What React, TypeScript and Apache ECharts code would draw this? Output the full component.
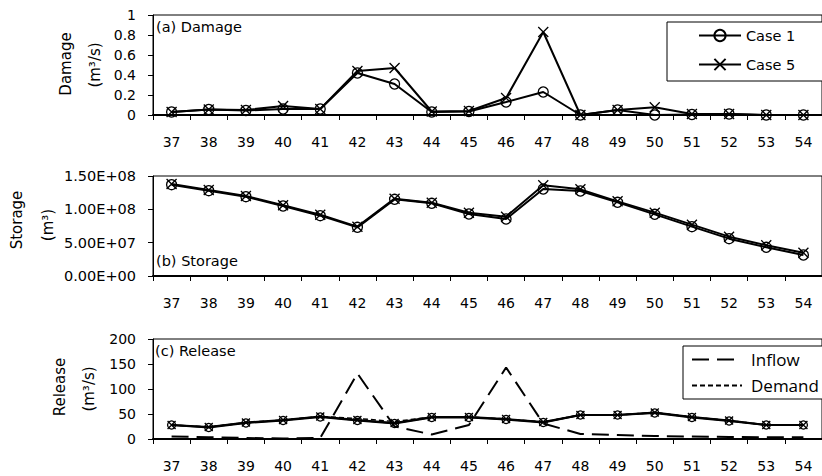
import React, { useEffect, useRef } from "react";
import * as echarts from "echarts";

const weeks = ["37", "38", "39", "40", "41", "42", "43", "44", "45", "46", "47", "48", "49", "50", "51", "52", "53", "54"];

const damageCase1 = [0.03, 0.055, 0.045, 0.06, 0.06, 0.42, 0.31, 0.03, 0.035, 0.13, 0.23, 0.0, 0.05, 0.0, 0.005, 0.01, 0.0, 0.0];
const damageCase5 = [0.03, 0.055, 0.05, 0.09, 0.06, 0.44, 0.47, 0.035, 0.04, 0.17, 0.83, 0.0, 0.05, 0.077, 0.01, 0.01, 0.0, 0.0];

const storageCase1 = [1.37e8, 1.28e8, 1.19e8, 1.05e8, 0.905e8, 0.73e8, 1.15e8, 1.09e8, 0.93e8, 0.855e8, 1.305e8, 1.275e8, 1.105e8, 0.925e8, 0.74e8, 0.56e8, 0.43e8, 0.315e8];
const storageCase5 = [1.38e8, 1.29e8, 1.2e8, 1.06e8, 0.92e8, 0.74e8, 1.16e8, 1.1e8, 0.95e8, 0.89e8, 1.36e8, 1.3e8, 1.12e8, 0.95e8, 0.77e8, 0.59e8, 0.46e8, 0.35e8];

const releaseCase1 = [28, 23, 32, 37, 44, 37, 31, 43, 43, 39, 33, 48, 48, 52, 43, 36, 28, 28];
const releaseCase5 = [28, 24, 33, 38, 45, 38, 32, 44, 44, 40, 34, 48, 48, 53, 44, 37, 28, 28];
const inflow = [5, 3.5, 2, 1, 2, 131, 25, 9, 28, 143, 31, 10, 8, 6, 5, 4, 3.5, 3.5];
const demand = [28, 24, 33, 38, 45, 41, 35, 44, 44, 40, 34, 48, 48, 53, 44, 37, 28, 28];

const damageTicks = { min: 0, max: 1, interval: 0.2 };
const storageTicks = { min: 0, max: 1.5e8, interval: 5e7 };
const releaseTicks = { min: 0, max: 200, interval: 50 };

const FONT = "DejaVu Sans";
const CROSS = "path://M0,0L10,10M0,10L10,0";

function sciFormat(v: number): string {
  if (v === 0) return "0.00E+00";
  const e = Math.floor(Math.log10(v) + 1e-9);
  const m = v / Math.pow(10, e);
  return m.toFixed(2) + "E+" + String(e).padStart(2, "0");
}

function plainFormat(v: number): string {
  return String(Math.round(v * 1000) / 1000);
}

export default function App() {
  const ref = useRef<HTMLDivElement>(null);

  useEffect(() => {
    if (!ref.current) return;
    const chart = echarts.init(ref.current, undefined, { renderer: "svg" });

    const grids = [15, 176, 339].map((top) => ({
      left: 153,
      right: -6,
      top,
      height: 100,
      show: true,
      borderColor: "#000",
      borderWidth: 1,
      backgroundColor: "transparent",
    }));

    const xAxes = [0, 1, 2].map((i) => ({
      type: "category",
      gridIndex: i,
      data: weeks,
      boundaryGap: true,
      axisLine: { show: true, lineStyle: { color: "#000", width: 2 } },
      axisTick: { show: true, interval: 0, length: 5, lineStyle: { color: "#000", width: 1 } },
      axisLabel: { interval: 0, margin: 20, color: "#000", fontSize: 14, fontFamily: FONT },
      splitLine: { show: false },
    }));

    const yBase = (i: number, t: any, size: number, fmt: (v: number) => string) => ({
      type: "value",
      gridIndex: i,
      min: t.min,
      max: t.max,
      interval: t.interval,
      axisLine: { show: true, lineStyle: { color: "#000", width: 1 } },
      axisTick: { show: true, length: 5, lineStyle: { color: "#000" } },
      axisLabel: {
        show: true,
        margin: 17,
        color: "#000",
        fontSize: size,
        fontFamily: FONT,
        formatter: fmt,
      },
      splitLine: { show: false },
    });

    const caseSeries = (name: string, data: number[], grid: number, symbolSize: number, cross: boolean) => ({
      name,
      type: "line",
      xAxisIndex: grid,
      yAxisIndex: grid,
      data,
      symbol: cross ? CROSS : "circle",
      symbolSize,
      showSymbol: true,
      lineStyle: { color: "#000", width: 2 },
      itemStyle: { color: "rgba(0,0,0,0)", borderColor: "#000", borderWidth: 1.3 },
      z: cross ? 4 : 3,
    });

    const text = (t: string, x: number, y: number, size: number, rotate = false) => ({
      type: "text",
      x,
      y,
      rotation: rotate ? Math.PI / 2 : 0,
      style: {
        text: t,
        fill: "#000",
        fontSize: size,
        fontFamily: FONT,
        textAlign: rotate ? "center" : "left",
        textVerticalAlign: "middle",
      },
      z: 10,
    });

    chart.setOption({
      animation: false,
      textStyle: { fontFamily: FONT },
      grid: grids,
      xAxis: xAxes,
      yAxis: [
        yBase(0, damageTicks, 14, plainFormat),
        yBase(1, storageTicks, 14.5, sciFormat),
        yBase(2, releaseTicks, 14, plainFormat),
      ],
      legend: [
        {
          data: ["Case 1", "Case 5"],
          orient: "vertical",
          left: 667,
          top: 22,
          padding: [6, 40, 9, 31],
          itemWidth: 42,
          itemHeight: 14,
          itemGap: 14,
          borderColor: "#000",
          borderWidth: 1,
          backgroundColor: "#fff",
          textStyle: { color: "#000", fontSize: 14.5, fontFamily: FONT },
        },
        {
          data: ["Inflow", "Demand"],
          orient: "vertical",
          left: 683,
          top: 346,
          padding: [5, 40, 5, 8],
          itemWidth: 50,
          itemHeight: 17,
          itemGap: 9,
          borderColor: "#000",
          borderWidth: 1,
          backgroundColor: "#fff",
          formatter: "{t|{name}}",
          textStyle: {
            color: "#000",
            fontSize: 17,
            fontFamily: "Open Sans",
            rich: { t: { padding: [0, 0, 0, 4], fontSize: 17, fontFamily: "Open Sans" } },
          },
        },
      ],
      series: [
        caseSeries("Case 1", damageCase1, 0, 10, false),
        caseSeries("Case 5", damageCase5, 0, 10, true),
        caseSeries("Case 1", storageCase1, 1, 10, false),
        caseSeries("Case 5", storageCase5, 1, 10, true),
        caseSeries("Case 1", releaseCase1, 2, 8, false),
        caseSeries("Case 5", releaseCase5, 2, 8, true),
        {
          name: "Inflow",
          type: "line",
          xAxisIndex: 2,
          yAxisIndex: 2,
          data: inflow,
          symbol: "none",
          lineStyle: { color: "#000", width: 2, type: [17, 8] },
          itemStyle: { color: "rgba(0,0,0,0)", borderWidth: 0 },
          z: 2,
        },
        {
          name: "Demand",
          type: "line",
          xAxisIndex: 2,
          yAxisIndex: 2,
          data: demand,
          symbol: "none",
          lineStyle: { color: "#000", width: 1.5, type: [5, 3] },
          itemStyle: { color: "rgba(0,0,0,0)", borderWidth: 0 },
          z: 2,
        },
      ],
      graphic: [
        text("Damage", 66, 64, 15, true),
        text("(m³/s)", 95, 65, 15, true),
        text("Storage", 17, 220, 15, true),
        text("(m³)", 48, 225, 15, true),
        text("Release", 60, 387, 15, true),
        text("(m³/s)", 89, 389, 15, true),
        text("(a) Damage", 156, 27, 14.5),
        text("(b) Storage", 156, 261, 14.5),
        text("(c) Release", 155, 351, 14.5),
      ],
    });

    return () => chart.dispose();
  }, []);

  return (
    <div
      ref={ref}
      style={{ position: "fixed", left: 0, top: 0, width: 822, height: 476, background: "#fff" }}
    />
  );
}
